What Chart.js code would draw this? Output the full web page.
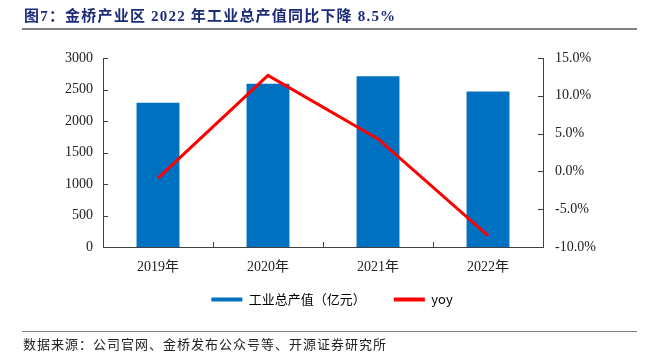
<!DOCTYPE html>
<html>
<head>
<meta charset="utf-8">
<script src="https://cdn.jsdelivr.net/npm/chart.js@4"></script>
<style>
  html, body { margin: 0; padding: 0; background: #fff; }
  #wrap { position: relative; width: 654px; height: 356px; overflow: hidden; }
  #title { position: absolute; left: 24px; top: 4px; font: bold 15px "Liberation Serif", "Noto Sans CJK SC", serif; color: #1C2A7A; letter-spacing: 1.2px; white-space: nowrap; }
  #topline { position: absolute; left: 22px; top: 28px; width: 615px; height: 2px; background: #808080; }
  #botline { position: absolute; left: 22px; top: 331px; width: 615px; height: 1px; background: #808080; }
  #source { position: absolute; left: 23px; top: 334px; font: 13px "Noto Sans CJK SC", sans-serif; color: #222; letter-spacing: 1px; white-space: nowrap; }
  canvas { position: absolute; left: 0; top: 0; }
</style>
</head>
<body>
<div id="wrap">
  <canvas id="c" width="654" height="356"></canvas>
  <div id="title">图7：金桥产业区 2022 年工业总产值同比下降 8.5%</div>
  <div id="topline"></div>
  <div id="botline"></div>
  <div id="source">数据来源：公司官网、金桥发布公众号等、开源证券研究所</div>
</div>
<script>
const categories = ["2019年", "2020年", "2021年", "2022年"];
const outputValues = [2290, 2590, 2710, 2470];   // 工业总产值（亿元）
const yoyValues = [-0.9, 12.7, 4.3, -8.5];        // yoy, %
const leftTicks = [0, 500, 1000, 1500, 2000, 2500, 3000];
const rightTicks = [-10, -5, 0, 5, 10, 15];

const serif = '"Liberation Serif", "Noto Sans CJK SC", serif';
const AXIS = '#404040';

const innerTicks = {
  id: 'innerTicks',
  afterLayout(chart) {
    const lg = chart.legend;
    if (lg) { lg.top -= 17; lg.bottom -= 17; lg.left += 5; lg.right += 5; }
  },
  afterDraw(chart) {
    const ctx = chart.ctx;
    const ca = chart.chartArea;
    const y = chart.scales.y, y1 = chart.scales.y1, x = chart.scales.x;
    ctx.save();
    ctx.strokeStyle = AXIS;
    ctx.lineWidth = 1;
    ctx.beginPath();
    y.ticks.forEach(t => { const p = Math.round(y.getPixelForValue(t.value)) + 0.5; ctx.moveTo(ca.left, p); ctx.lineTo(ca.left + 5, p); });
    y1.ticks.forEach(t => { const p = Math.round(y1.getPixelForValue(t.value)) + 0.5; ctx.moveTo(ca.right, p); ctx.lineTo(ca.right - 5, p); });
    const n = categories.length;
    for (let i = 0; i <= n; i++) {
      const px = Math.round(x.getPixelForValue(i - 0.5)) + 0.5;
      ctx.moveTo(px, ca.bottom); ctx.lineTo(px, ca.bottom - 5);
    }
    ctx.stroke();
    ctx.restore();
  }
};

new Chart(document.getElementById('c'), {
  data: {
    labels: categories,
    datasets: [
      {
        type: 'line', label: 'yoy', data: yoyValues, yAxisID: 'y1',
        borderColor: '#FF0000', backgroundColor: '#FF0000', borderWidth: 3,
        pointRadius: 0, tension: 0, order: 0
      },
      {
        type: 'bar', label: '工业总产值（亿元）', data: outputValues, yAxisID: 'y',
        backgroundColor: '#0070C0', borderWidth: 0,
        categoryPercentage: 1, barPercentage: 0.39, order: 1
      }
    ]
  },
  options: {
    responsive: false,
    animation: false,
    layout: { padding: { left: 0, right: 0, top: 58, bottom: 23 } },
    plugins: {
      tooltip: { enabled: false },
      legend: {
        position: 'bottom',
        reverse: true,
        labels: {
          boxWidth: 31, boxHeight: 4, padding: 28,
          color: '#222',
          font: { family: '"Noto Sans CJK SC", sans-serif', size: 13 },
          generateLabels(chart) {
            return chart.data.datasets.map((d, i) => ({
              text: d.label, fillStyle: d.type === 'bar' ? d.backgroundColor : d.borderColor,
              strokeStyle: 'transparent', lineWidth: 0, datasetIndex: i, hidden: false
            }));
          }
        }
      }
    },
    scales: {
      x: {
        grid: { display: false, drawTicks: false },
        border: { display: true, color: AXIS, width: 1 },
        ticks: { color: '#222', font: { family: serif, size: 14 }, padding: 12 },
        afterFit(s) { s.height = 35; }
      },
      y: {
        position: 'left', min: 0, max: 3000,
        afterBuildTicks(s) { s.ticks = leftTicks.map(v => ({ value: v })); },
        grid: { display: false, drawTicks: false },
        border: { display: true, color: AXIS, width: 1 },
        ticks: { color: '#222', font: { family: serif, size: 14 }, padding: 10,
          callback: v => String(v) },
        afterFit(s) { s.width = 103; }
      },
      y1: {
        position: 'right', min: -10, max: 15,
        afterBuildTicks(s) { s.ticks = rightTicks.map(v => ({ value: v })); },
        grid: { display: false, drawTicks: false },
        border: { display: true, color: AXIS, width: 1 },
        ticks: { color: '#222', font: { family: serif, size: 14 }, padding: 12,
          callback: v => Number(v).toFixed(1) + '%' },
        afterFit(s) { s.width = 111; }
      }
    }
  },
  plugins: [innerTicks]
});
</script>
</body>
</html>
